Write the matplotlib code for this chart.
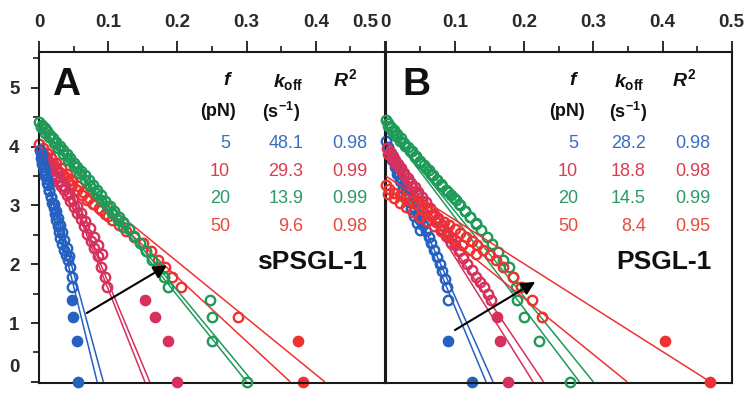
import matplotlib
matplotlib.use('Agg')
import matplotlib.pyplot as plt
from matplotlib.ticker import MultipleLocator, FixedLocator

plt.rcParams['font.family'] = ['Liberation Sans', 'DejaVu Sans']
plt.rcParams['mathtext.fontset'] = 'custom'
plt.rcParams['mathtext.it'] = 'Liberation Sans:style=italic:weight=bold'
plt.rcParams['mathtext.rm'] = 'Liberation Sans:weight=bold'
plt.rcParams['mathtext.bf'] = 'Liberation Sans:weight=bold'

# ---------------- data ----------------
forces = ['5', '10', '20', '50']
koff_A = ['48.1', '29.3', '13.9', '9.6']
r2_A = ['0.98', '0.99', '0.99', '0.98']
koff_B = ['28.2', '18.8', '14.5', '8.4']
r2_B = ['0.98', '0.98', '0.99', '0.95']
x_ticks = [0, 0.1, 0.2, 0.3, 0.4, 0.5]
y_ticks = [0, 1, 2, 3, 4, 5]

# Panel A (sPSGL-1)
A_blue_x = [0.002, 0.004, 0.005, 0.007, 0.009, 0.011, 0.013, 0.015, 0.017, 0.019, 0.021, 0.023,
            0.025, 0.027, 0.029, 0.031, 0.033, 0.036, 0.039, 0.042, 0.045, 0.047, 0.048]
A_blue_y = [3.95, 3.85, 3.75, 3.65, 3.55, 3.45, 3.35, 3.25, 3.15, 3.05, 2.95, 2.85,
            2.75, 2.65, 2.55, 2.45, 2.35, 2.25, 2.15, 2.08, 1.95, 1.79, 1.61]
A_blue2_x = [0.003, 0.005, 0.007, 0.009, 0.012, 0.015, 0.018, 0.021, 0.024, 0.027, 0.030, 0.033,
             0.036, 0.040, 0.044]
A_blue2_y = [3.80, 3.70, 3.60, 3.50, 3.38, 3.26, 3.14, 3.02, 2.90, 2.78, 2.66, 2.54,
             2.42, 2.28, 2.14]
A_blue_fx = [0.048, 0.049, 0.055, 0.056]
A_blue_fy = [1.386, 1.099, 0.693, 0.0]
A_blue_fit0 = (0.0, 4.02)
A_blue_fit_ends = [0.084, 0.093]

A_crim_x = [0.002, 0.005, 0.008, 0.011, 0.014, 0.017, 0.020, 0.024, 0.028, 0.032, 0.036, 0.040,
            0.045, 0.050, 0.055, 0.060, 0.065, 0.070, 0.075, 0.080, 0.085, 0.090, 0.095, 0.098]
A_crim_y = [3.95, 3.88, 3.80, 3.72, 3.66, 3.60, 3.53, 3.46, 3.40, 3.33, 3.26, 3.18,
            3.08, 2.98, 2.88, 2.77, 2.65, 2.52, 2.40, 2.28, 2.14, 1.95, 1.79, 1.61]
A_crim2_x = [0.004, 0.009, 0.014, 0.019, 0.025, 0.031, 0.037, 0.043, 0.049, 0.055, 0.061, 0.067,
             0.073, 0.079, 0.085, 0.091]
A_crim2_y = [3.85, 3.76, 3.68, 3.59, 3.50, 3.41, 3.31, 3.21, 3.10, 2.99, 2.87, 2.74,
             2.61, 2.47, 2.33, 2.18]
A_crim_fx = [0.153, 0.168, 0.187, 0.200]
A_crim_fy = [1.386, 1.099, 0.693, 0.0]
A_crim_fit0 = (0.02, 3.95)
A_crim_fit_ends = [0.153, 0.160]

A_green_x = [0.000, 0.004, 0.008, 0.012, 0.016, 0.020, 0.025, 0.030, 0.035, 0.040, 0.045, 0.050,
             0.055, 0.060, 0.066, 0.072, 0.078, 0.084, 0.090, 0.096, 0.102, 0.108, 0.115, 0.122,
             0.130, 0.138, 0.146, 0.155, 0.163, 0.172, 0.180, 0.186, 0.247, 0.250, 0.250, 0.300]
A_green_y = [4.42, 4.37, 4.31, 4.26, 4.20, 4.15, 4.08, 4.01, 3.94, 3.87, 3.80, 3.73,
             3.66, 3.59, 3.51, 3.43, 3.35, 3.26, 3.17, 3.08, 2.99, 2.91, 2.81, 2.71,
             2.60, 2.48, 2.36, 2.22, 2.08, 1.95, 1.79, 1.61, 1.386, 1.099, 0.693, 0.0]
A_green2_x = [0.003, 0.009, 0.015, 0.021, 0.028, 0.035, 0.042, 0.050, 0.058, 0.066, 0.074, 0.082,
              0.090, 0.098, 0.106, 0.114, 0.122]
A_green2_y = [4.33, 4.24, 4.16, 4.07, 3.98, 3.88, 3.78, 3.67, 3.56, 3.44, 3.33, 3.22,
              3.10, 2.99, 2.87, 2.76, 2.64]
A_green_fit0 = (0.0, 4.40)
A_green_fit_ends = [0.300, 0.309]

A_red_x = [0.003, 0.008, 0.013, 0.018, 0.024, 0.030, 0.036, 0.042, 0.048, 0.055, 0.062, 0.070,
           0.078, 0.086, 0.095, 0.105, 0.115, 0.126, 0.138, 0.150, 0.162, 0.172, 0.182, 0.192,
           0.205, 0.288]
A_red_y = [3.90, 3.84, 3.77, 3.70, 3.62, 3.55, 3.48, 3.41, 3.34, 3.26, 3.18, 3.09,
           3.02, 2.95, 2.85, 2.76, 2.66, 2.57, 2.47, 2.36, 2.22, 2.08, 1.95, 1.79,
           1.61, 1.10]
A_red2_x = [0.000, 0.006, 0.012, 0.018, 0.025, 0.032, 0.040, 0.048, 0.056, 0.064, 0.072, 0.080,
            0.090, 0.100]
A_red2_y = [4.05, 3.97, 3.89, 3.81, 3.72, 3.63, 3.53, 3.43, 3.33, 3.23, 3.13, 3.03,
            2.93, 2.82]
A_red_fx = [0.374, 0.382]
A_red_fy = [0.693, 0.0]
A_red_fit0 = (0.0, 3.96)
A_red_fit_ends = [0.363, 0.413]

# Panel B (PSGL-1)
B_blue_x = [0.001, 0.004, 0.007, 0.010, 0.013, 0.016, 0.019, 0.022, 0.026, 0.030, 0.034, 0.038,
            0.042, 0.046, 0.050, 0.054, 0.058, 0.062, 0.066, 0.070, 0.074, 0.078, 0.082, 0.086,
            0.089, 0.090]
B_blue_y = [4.10, 4.00, 3.90, 3.81, 3.72, 3.63, 3.54, 3.46, 3.36, 3.26, 3.16, 3.06,
            2.96, 2.86, 2.76, 2.66, 2.56, 2.46, 2.36, 2.25, 2.13, 2.01, 1.89, 1.75,
            1.61, 1.39]
B_blue2_x = [0.003, 0.006, 0.009, 0.013, 0.017, 0.021, 0.025, 0.029, 0.033, 0.037, 0.041, 0.045,
             0.049]
B_blue2_y = [3.98, 3.88, 3.78, 3.66, 3.54, 3.42, 3.30, 3.18, 3.06, 2.94, 2.82, 2.70, 2.58]
B_blue_fx = [0.090, 0.125]
B_blue_fy = [0.693, 0.0]
B_blue_fit0 = (0.0, 4.10)
B_blue_fit_ends = [0.145, 0.155]

B_crim_x = [0.002, 0.006, 0.010, 0.014, 0.018, 0.022, 0.027, 0.032, 0.037, 0.042, 0.047, 0.052,
            0.058, 0.064, 0.070, 0.076, 0.082, 0.088, 0.094, 0.100, 0.106, 0.112, 0.118, 0.124,
            0.130, 0.136, 0.142, 0.148, 0.152]
B_crim_y = [3.98, 3.91, 3.84, 3.77, 3.70, 3.63, 3.55, 3.47, 3.39, 3.31, 3.23, 3.15,
            3.06, 2.96, 2.86, 2.76, 2.66, 2.55, 2.44, 2.33, 2.22, 2.11, 2.00, 1.90,
            1.79, 1.70, 1.61, 1.50, 1.39]
B_crim2_x = [0.004, 0.009, 0.014, 0.020, 0.026, 0.032, 0.038, 0.045, 0.052, 0.059, 0.066, 0.073,
             0.080, 0.087, 0.094]
B_crim2_y = [3.88, 3.80, 3.72, 3.62, 3.52, 3.42, 3.32, 3.20, 3.08, 2.96, 2.84, 2.72,
             2.60, 2.48, 2.36]
B_crim_fx = [0.161, 0.165, 0.177]
B_crim_fy = [1.099, 0.693, 0.0]
B_crim_fit0 = (0.0, 4.00)
B_crim_fit_ends = [0.213, 0.228]

B_green_x = [0.000, 0.004, 0.008, 0.012, 0.017, 0.022, 0.027, 0.032, 0.038, 0.044, 0.050, 0.056,
             0.062, 0.068, 0.074, 0.080, 0.087, 0.094, 0.101, 0.108, 0.115, 0.122, 0.130, 0.138,
             0.146, 0.154, 0.162, 0.170, 0.178, 0.184, 0.188, 0.190, 0.200, 0.222, 0.267]
B_green_y = [4.45, 4.40, 4.34, 4.28, 4.21, 4.14, 4.07, 4.00, 3.92, 3.84, 3.76, 3.68,
             3.60, 3.52, 3.44, 3.36, 3.27, 3.18, 3.09, 3.00, 2.91, 2.81, 2.70, 2.59,
             2.47, 2.34, 2.20, 2.08, 1.95, 1.79, 1.61, 1.386, 1.099, 0.693, 0.0]
B_green2_x = [0.003, 0.009, 0.015, 0.021, 0.028, 0.035, 0.042, 0.050, 0.058, 0.066, 0.074, 0.082,
              0.090, 0.098, 0.106, 0.114, 0.122, 0.130]
B_green2_y = [4.35, 4.27, 4.18, 4.10, 4.01, 3.92, 3.83, 3.73, 3.63, 3.53, 3.43, 3.33,
              3.23, 3.12, 3.02, 2.91, 2.80, 2.69]
B_green_fit0 = (0.0, 4.35)
B_green_fit_ends = [0.280, 0.300]

B_red_x = [0.000, 0.005, 0.012, 0.020, 0.028, 0.036, 0.044, 0.052, 0.060, 0.068, 0.076, 0.084,
           0.092, 0.100, 0.108, 0.116, 0.124, 0.132, 0.141, 0.150, 0.160, 0.170, 0.184, 0.195,
           0.212, 0.226]
B_red_y = [3.35, 3.28, 3.22, 3.17, 3.12, 3.07, 3.02, 2.96, 2.90, 2.84, 2.78, 2.72,
           2.66, 2.60, 2.53, 2.46, 2.39, 2.32, 2.24, 2.16, 2.08, 1.95, 1.79, 1.61,
           1.386, 1.099]
B_red2_x = [0.004, 0.012, 0.020, 0.030, 0.040, 0.050, 0.060, 0.070, 0.080, 0.090, 0.100, 0.110,
            0.120, 0.130]
B_red2_y = [3.20, 3.12, 3.05, 2.97, 2.89, 2.81, 2.73, 2.65, 2.57, 2.49, 2.41, 2.33,
            2.25, 2.17]
B_red_fx = [0.404, 0.469]
B_red_fy = [0.693, 0.0]
B_red_fit0 = [(0.0, 3.50), (0.05, 2.85)]
B_red_fit_ends = [0.469, 0.349]

# ---------------- style ----------------
C_BLUE = '#2660c0'
C_CRIM = '#d6305c'
C_GREEN = '#1f9a58'
C_RED = '#ee3232'
T_COLORS = ['#3a6ec4', '#dc3c50', '#2a9a62', '#e84a3c']
AXC = '#1a1a1a'

fig = plt.figure(figsize=(7.49, 3.93), dpi=100)
axA = fig.add_axes([39 / 749, 10 / 393, 346 / 749, 331 / 393])
axB = fig.add_axes([385.7 / 749, 10 / 393, 346 / 749, 331 / 393])


def draw_series(ax, x, y, x2, y2, fx, fy, fit0, ends, color, z):
    starts = fit0 if isinstance(fit0, list) else [fit0] * len(ends)
    for (sx, sy), ex in zip(starts, ends):
        ax.plot([sx, ex], [sy, 0.0], color=color, lw=1.1, zorder=z, solid_capstyle='butt')
    for xx, yy in ((x2, y2), (x, y)):
        ax.plot(xx, yy, ls='none', marker='o', ms=6.8, mfc='none', mec=color, mew=1.7,
                zorder=z + 0.5, clip_on=False)
    if fx:
        ax.plot(fx, fy, ls='none', marker='o', ms=7.4, mfc=color, mec=color,
                zorder=z + 0.5, clip_on=False)


draw_series(axA, A_red_x, A_red_y, A_red2_x, A_red2_y, A_red_fx, A_red_fy,
            A_red_fit0, A_red_fit_ends, C_RED, 2)
draw_series(axA, A_crim_x, A_crim_y, A_crim2_x, A_crim2_y, A_crim_fx, A_crim_fy,
            A_crim_fit0, A_crim_fit_ends, C_CRIM, 3)
draw_series(axA, A_blue_x, A_blue_y, A_blue2_x, A_blue2_y, A_blue_fx, A_blue_fy,
            A_blue_fit0, A_blue_fit_ends, C_BLUE, 4)
draw_series(axA, A_green_x, A_green_y, A_green2_x, A_green2_y, [], [],
            A_green_fit0, A_green_fit_ends, C_GREEN, 5)

draw_series(axB, B_blue_x, B_blue_y, B_blue2_x, B_blue2_y, B_blue_fx, B_blue_fy,
            B_blue_fit0, B_blue_fit_ends, C_BLUE, 2)
draw_series(axB, B_crim_x, B_crim_y, B_crim2_x, B_crim2_y, B_crim_fx, B_crim_fy,
            B_crim_fit0, B_crim_fit_ends, C_CRIM, 3)
draw_series(axB, B_green_x, B_green_y, B_green2_x, B_green2_y, [], [],
            B_green_fit0, B_green_fit_ends, C_GREEN, 4)
draw_series(axB, B_red_x, B_red_y, B_red2_x, B_red2_y, B_red_fx, B_red_fy,
            B_red_fit0, B_red_fit_ends, C_RED, 5)

for ax in (axA, axB):
    ax.set_xlim(0, 0.5)
    ax.set_ylim(-0.02, 5.61)
    for s in ax.spines.values():
        s.set_linewidth(1.5)
        s.set_color(AXC)
    ax.xaxis.set_major_locator(FixedLocator(x_ticks))
    ax.xaxis.set_minor_locator(MultipleLocator(0.05))
    ax.tick_params(axis='x', which='major', direction='out', length=8, width=1.3, color=AXC,
                   top=True, bottom=False, labeltop=True, labelbottom=False, pad=7,
                   labelsize=13.5, labelcolor='#2a2a2a')
    ax.tick_params(axis='x', which='minor', direction='out', length=4, width=1.2, color=AXC,
                   top=True, bottom=False)

axA.set_xticklabels(['0', '0.1', '0.2', '0.3', '0.4', ''], fontweight='bold')
axB.set_xticklabels(['0', '0.1', '0.2', '0.3', '0.4', '0.5'], fontweight='bold')
axA.annotate('0.5', xy=(0.5, 1), xycoords=('data', 'axes fraction'), xytext=(-5, 15),
             textcoords='offset points', ha='right', va='bottom', fontsize=13.5,
             fontweight='bold', color='#2a2a2a', annotation_clip=False)

axA.yaxis.set_major_locator(FixedLocator(y_ticks))
axA.yaxis.set_minor_locator(MultipleLocator(0.5))
axA.set_yticklabels([''] + [str(v) for v in y_ticks[1:]], fontweight='bold')
axA.tick_params(axis='y', which='major', direction='out', length=6, width=1.3, color=AXC,
                pad=8, labelsize=13.5, labelcolor='#2a2a2a')
axA.tick_params(axis='y', which='minor', direction='out', length=4, width=1.2, color=AXC)
axA.annotate(str(y_ticks[0]), xy=(0, 0), xycoords='data', xytext=(-14, 10),
             textcoords='offset points', ha='right', va='center', fontsize=13.5,
             fontweight='bold', color='#2a2a2a', annotation_clip=False)
axB.tick_params(axis='y', which='both', left=False, labelleft=False)

# arrows
axA.annotate('', xy=(0.185, 1.98), xytext=(0.069, 1.17),
             arrowprops=dict(arrowstyle='-|>', color='k', lw=1.5, mutation_scale=20,
                             shrinkA=0, shrinkB=0), zorder=10)
axB.annotate('', xy=(0.216, 1.70), xytext=(0.100, 0.88),
             arrowprops=dict(arrowstyle='-|>', color='k', lw=1.5, mutation_scale=20,
                             shrinkA=0, shrinkB=0), zorder=10)


def table(ax, letter, name, koffs, r2s, xs, name_x):
    ax.text(xs['letter'], 5.05, letter, fontsize=28, fontweight='bold', ha='left', va='center',
            color='#111111')
    ax.text(xs['f'], 5.12, r'$f$', fontsize=14, ha='center', va='center', color='#111111')
    ax.text(xs['k'], 5.10, r'$k_{\mathrm{off}}$', fontsize=14, ha='center', va='center',
            color='#111111')
    ax.text(xs['r'], 5.14, r'$R^{2}$', fontsize=14, ha='center', va='center', color='#111111')
    ax.text(xs['pn'], 4.59, '(pN)', fontsize=13, fontweight='bold', ha='center', va='center',
            color='#111111')
    ax.text(xs['s'], 4.59, r'(s$^{\mathrm{-1}}$)', fontsize=13, fontweight='bold', ha='center',
            va='center', color='#111111')
    rows_y = [4.05, 3.58, 3.11, 2.64]
    for f, k, r, yy, c in zip(forces, koffs, r2s, rows_y, T_COLORS):
        ax.text(xs['c1'], yy, f, fontsize=13, ha='right', va='center', color=c)
        ax.text(xs['c2'], yy, k, fontsize=13, ha='right', va='center', color=c)
        ax.text(xs['c3'], yy, r, fontsize=13, ha='right', va='center', color=c)
    ax.text(name_x, 2.03, name, fontsize=19, fontweight='bold', ha='right', va='center',
            color='#111111')


table(axA, 'A', 'sPSGL-1', koff_A, r2_A,
      dict(letter=0.019, f=0.273, k=0.360, r=0.443, pn=0.259, s=0.350,
           c1=0.276, c2=0.382, c3=0.474), 0.474)
table(axB, 'B', 'PSGL-1', koff_B, r2_B,
      dict(letter=0.024, f=0.272, k=0.352, r=0.432, pn=0.262, s=0.350,
           c1=0.278, c2=0.376, c3=0.469), 0.471)

fig.savefig('out.png', dpi=100)
